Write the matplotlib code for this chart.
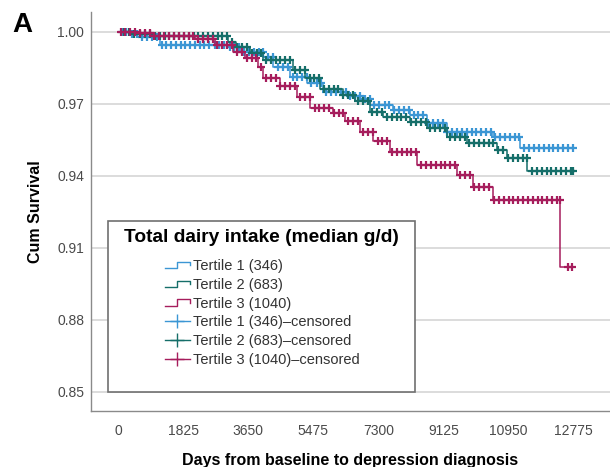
import numpy as np
import matplotlib
matplotlib.use("Agg")
import matplotlib.pyplot as plt
from matplotlib.legend_handler import HandlerBase
from matplotlib.lines import Line2D
from matplotlib.patches import Rectangle

plt.rcParams['font.family'] = ['Liberation Sans', 'DejaVu Sans']

# Kaplan-Meier estimates (days, cum survival)
t1_time = [0, 337, 618, 1179, 3089, 3426, 4072, 4352, 4830, 5307, 5756, 6430, 6795,
           7076, 7722, 8199, 8677, 9238, 10530, 11288]
t1_surv = [1.0, 0.9992, 0.9979, 0.9946, 0.9938, 0.9917, 0.9896, 0.9854, 0.9813, 0.9788,
           0.9750, 0.9733, 0.9721, 0.9696, 0.9675, 0.9654, 0.9621, 0.9583, 0.9563, 0.9517]

t2_time = [0, 337, 899, 3089, 3313, 3707, 4072, 4914, 5251, 5672, 6318, 6655, 7076,
           7441, 8199, 8677, 9238, 9800, 10642, 10923, 11485]
t2_surv = [1.0, 0.9992, 0.9983, 0.9958, 0.9938, 0.9913, 0.9883, 0.9842, 0.9808, 0.9763,
           0.9738, 0.9713, 0.9667, 0.9646, 0.9625, 0.9600, 0.9563, 0.9538, 0.9508, 0.9475,
           0.9421]

t3_time = [0, 477, 899, 2162, 2724, 3229, 3566, 3931, 4072, 4549, 5026, 5391, 6037,
           6374, 6795, 7160, 7638, 8396, 9519, 9968, 10530, 12411]
t3_surv = [1.0, 0.9996, 0.9983, 0.9971, 0.9946, 0.9917, 0.9892, 0.9854, 0.9808, 0.9775,
           0.9729, 0.9683, 0.9663, 0.9629, 0.9583, 0.9546, 0.9500, 0.9446, 0.9404, 0.9354,
           0.9300, 0.9021]

follow_end = [12776, 12776, 12776]

# censored observations (days)
t1_cens = [90, 210, 380, 520, 660, 800, 950, 1090, 1230, 1350, 1480, 1620, 1760, 1880, 2010,
           2150, 2290, 2410, 2550, 2700, 2830, 2960, 3120, 3250, 3390, 3520, 3660, 3810, 3940,
           4070, 4200, 4340, 4480, 4610, 4750, 4890, 5020, 5160, 5290, 5420, 5570, 5700, 5840,
           5980, 6100, 6240, 6380, 6510, 6650, 6790, 6920, 7060, 7190, 7330, 7480, 7610, 7740,
           7880, 8020, 8150, 8290, 8420, 8560, 8700, 8830, 8970, 9110, 9240, 9370, 9510, 9640,
           9780, 9920, 10050, 10180, 10320, 10460, 10590, 10730, 10860, 11000, 11130, 11260,
           11400, 11540, 11670, 11810, 11940, 12080, 12210, 12350, 12480, 12620, 12776]
t2_cens = [150, 300, 450, 610, 740, 880, 1020, 1170, 1300, 1430, 1570, 1700, 1840, 1980, 2110,
           2240, 2380, 2520, 2650, 2790, 2920, 3060, 3200, 3330, 3470, 3600, 3740, 3880, 4010,
           4140, 4280, 4420, 4550, 4690, 4820, 4960, 5100, 5230, 5370, 5500, 5640, 5770, 5910,
           6050, 6180, 6320, 6450, 6590, 6720, 6860, 7000, 7130, 7270, 7400, 7540, 7680, 7810,
           7950, 8080, 8220, 8360, 8490, 8630, 8760, 8900, 9040, 9170, 9310, 9440, 9580, 9720,
           9850, 9990, 10120, 10260, 10400, 10530, 10670, 10800, 10940, 11080, 11210, 11350,
           11480, 11620, 11760, 11890, 12030, 12160, 12300, 12440, 12570, 12700, 12776]
t3_cens = [60, 190, 330, 470, 600, 740, 880, 1010, 1150, 1290, 1420, 1560, 1690, 1830, 1970,
           2100, 2240, 2370, 2510, 2650, 2780, 2920, 3060, 3190, 3330, 3460, 3600, 3740, 3870,
           4010, 4150, 4280, 4420, 4550, 4690, 4830, 4960, 5100, 5240, 5370, 5510, 5640, 5780,
           5920, 6050, 6190, 6320, 6460, 6600, 6730, 6870, 7010, 7140, 7280, 7410, 7550, 7690,
           7820, 7960, 8100, 8230, 8370, 8500, 8640, 8780, 8910, 9050, 9180, 9320, 9460, 9590,
           9730, 9870, 10000, 10140, 10270, 10410, 10550, 10680, 10820, 10960, 11090, 11230,
           11360, 11500, 11640, 11770, 11910, 12050, 12180, 12320, 12400, 12620, 12740]

labels = ["Tertile 1 (346)", "Tertile 2 (683)", "Tertile 3 (1040)"]
colors = ["#3b96d4", "#156e69", "#a61d5c"]
xticks = [0, 1825, 3650, 5475, 7300, 9125, 10950, 12775]
yticks = [0.85, 0.88, 0.91, 0.94, 0.97, 1.00]


class StepHandler(HandlerBase):
    def create_artists(self, legend, orig_handle, xdescent, ydescent, width, height,
                       fontsize, trans):
        x = np.array([0, 0.5, 0.5, 1.0, 1.0]) * width - xdescent
        y = np.array([0.2, 0.2, 0.8, 0.8, 0.45]) * height - ydescent
        ln = Line2D(x, y, color=orig_handle.get_color(), lw=1.0, transform=trans)
        return [ln]


fig = plt.figure(figsize=(6.10, 4.67), dpi=100)
ax = fig.add_axes([0.1492, 0.1199, 0.8508, 0.8544])

series = [(t1_time, t1_surv, t1_cens), (t2_time, t2_surv, t2_cens), (t3_time, t3_surv, t3_cens)]
step_handles = []
cens_handles = []
for i, (tt, ss, cc) in enumerate(series):
    tt = np.array(tt + [follow_end[i]])
    ss = np.array(ss + [ss[-1]])
    ln, = ax.step(tt, ss, where="post", color=colors[i], lw=1.1, zorder=3)
    idx = np.searchsorted(tt, cc, side="right") - 1
    cy = ss[idx]
    mk, = ax.plot(cc, cy, ls="none", marker="+", ms=6, mew=1.6, color=colors[i], zorder=3)
    step_handles.append(ln)
    cens_handles.append(mk)

ax.set_xlim(-770, 13806)
ax.set_ylim(0.84196, 1.00821)
ax.set_xticks(xticks)
ax.set_xticklabels([str(v) for v in xticks])
ax.set_yticks(yticks)
ax.set_yticklabels([f"{v:.2f}" for v in yticks])
ax.tick_params(length=0, labelsize=10, labelcolor="#4a4a4a", pad=5)
ax.tick_params(axis="x", pad=9)
ax.grid(axis="y", color="#d6d6d6", lw=1.2)
ax.set_axisbelow(True)
for side in ["top", "right"]:
    ax.spines[side].set_visible(False)
for side in ["left", "bottom"]:
    ax.spines[side].set_color("#8a8a8a")
    ax.spines[side].set_linewidth(1.0)

ax.set_ylabel("Cum Survival", fontsize=11.5, fontweight="bold", labelpad=10)
ax.set_xlabel("Days from baseline to depression diagnosis", fontsize=11.5,
              fontweight="bold", labelpad=11)

# legend box
rect = Rectangle((108 / 610, 1 - 392 / 467), 307 / 610, 171 / 467, transform=fig.transFigure,
                 facecolor="white", edgecolor="#707070", lw=1.2, zorder=4, clip_on=False)
ax.add_patch(rect)
fig.text(261.5 / 610, 1 - 238 / 467, "Total dairy intake (median g/d)", fontsize=13.8,
         fontweight="bold", ha="center", va="center", zorder=6)

handler_map = {h: StepHandler() for h in step_handles}
leg = ax.legend(step_handles + cens_handles,
                labels + [l + "\u2013censored" for l in labels],
                handler_map=handler_map,
                loc="upper left", bbox_to_anchor=(165 / 610, 1 - 259 / 467),
                bbox_transform=fig.transFigure, frameon=False, fontsize=10.5,
                handlelength=1.7, handletextpad=0.2, labelspacing=0.33, borderpad=0,
                borderaxespad=0)
leg.set_zorder(5)
for txt in leg.get_texts():
    txt.set_color("#333333")
for h in leg.legend_handles[3:]:
    h.set_markersize(10)
    h.set_markeredgewidth(1.0)
    h.set_linestyle("-")
    h.set_linewidth(1.0)

fig.text(12 / 610, 1 - 32 / 467, "A", fontsize=20, fontweight="bold", va="baseline")

fig.savefig("out.png", dpi=100)
